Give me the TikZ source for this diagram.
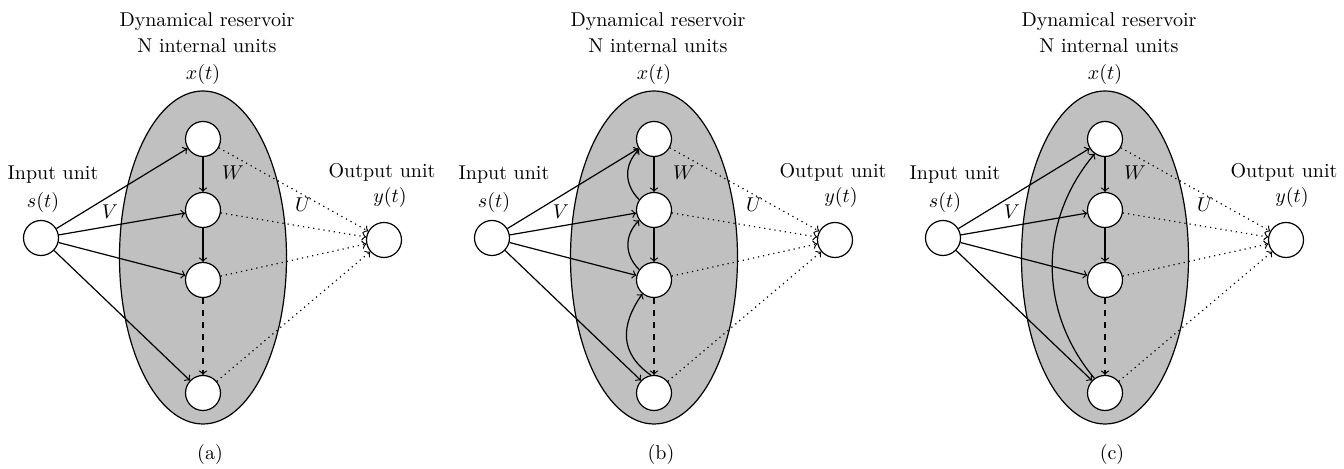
\documentclass[tikz,border=0pt]{standalone}
\usetikzlibrary{calc}
\definecolor{RGray}{HTML}{C0C0C0}
\tikzset{
    unit/.style={circle, draw, fill=white, minimum size=17.5pt, inner sep=0pt},
    lbl/.style={font=\fontsize{10}{13}\selectfont, inner sep=0pt},
}
\NewDocumentCommand{\Reservoir}{O{(0,0)} m}{
    \begin{scope}[shift={#1}, name prefix=#2-]
    \draw[fill=RGray] (203,211.5) ellipse [x radius=83.5, y radius=166.5];
    \node[unit] (input) at (41,231) {};
    \node[unit] (u1) at (203,330) {};
    \node[unit] (u2) at (203,259) {};
    \node[unit] (u3) at (203,189) {};
    \node[unit] (u4) at (203,76) {};
    \node[unit] (output) at (384,229) {};
    \foreach \k in {1,...,4} {
        \draw[->] (input) -- (u\k);
        \draw[->, dotted] (u\k) -- (output);
    }
    \draw[->] (u1) -- (u2);
    \draw[->] (u2) -- (u3);
    \draw[->, dashed] (u3) -- (u4);
    \node[lbl, align=center] (title) at (207,436) {Dynamical reservoir\\N internal units};
    \node[lbl] (xlbl) at (203,394) {$x(t)$};
    \node[lbl] (inlbl) at (53,294) {Input unit};
    \node[lbl] (slbl) at (43,266) {$s(t)$};
    \node[lbl] (outlbl) at (382,297) {Output unit};
    \node[lbl] (ylbl) at (390,271) {$y(t)$};
    \node[lbl] (vlbl) at (110,257) {$V$};
    \node[lbl] (wlbl) at (233,296) {$W$};
    \node[lbl] (ulbl) at (303,264) {$U$};
    \node[lbl] (cap) at (210,14) {(#2)};
    \end{scope}
}

\begin{document}
\begin{tikzpicture}[x=0.5pt, y=0.5pt, line width=0.6pt]
\useasboundingbox (0,0) rectangle (1344,469);
\Reservoir[(0,0)]{a}
\Reservoir[(451,0)]{b}
\Reservoir[(902,0)]{c}

% feedback between neighbours
\draw[->] (b-u2.145) to[out=135, in=225, looseness=1.1] (b-u1.215);
\draw[->] (b-u3.145) to[out=135, in=225, looseness=1.1] (b-u2.215);
\draw[->] (b-u4.100) to[out=145, in=235, looseness=1.2] (b-u3.230);
% long feedback
\draw[->] (c-u4.126) to[out=130, in=230] (c-u1.235);
\end{tikzpicture}
\end{document}
